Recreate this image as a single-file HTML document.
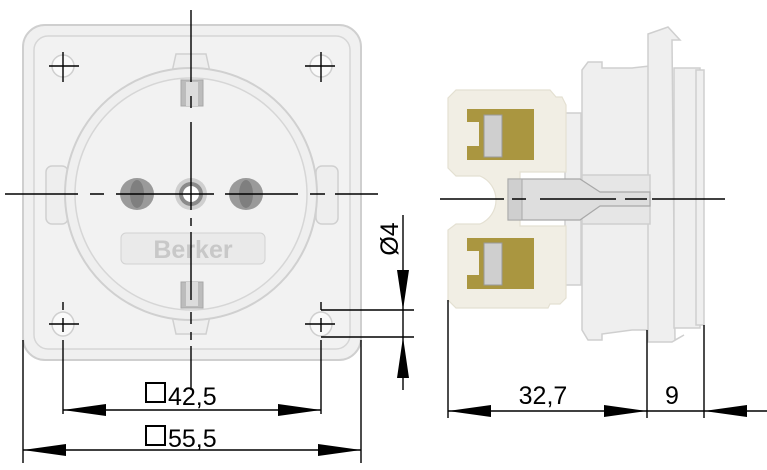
<!DOCTYPE html>
<html><head><meta charset="utf-8"><style>
html,body{margin:0;padding:0;background:#fff;}
svg{display:block}
text{font-family:"Liberation Sans",sans-serif;}
</style></head><body>
<svg width="767" height="470" viewBox="0 0 767 470" xmlns="http://www.w3.org/2000/svg">
<!-- front plate -->
<rect x="23" y="25" width="338" height="335" rx="22" fill="#f0f0f0" stroke="#cfcfcf" stroke-width="2"/>
<rect x="34" y="36" width="316" height="313" rx="14" fill="#f2f2f2" stroke="#d6d6d6" stroke-width="1.5"/>
<!-- side tabs -->
<path d="M172 72 L176 54 H206 L210 72" fill="#eee" stroke="#d0d0d0" stroke-width="1.5"/>
<path d="M172 316 L176 334 H206 L210 316" fill="#eee" stroke="#d0d0d0" stroke-width="1.5"/>
<rect x="46" y="166" width="22" height="58" rx="6" fill="#eee" stroke="#d0d0d0" stroke-width="1.5"/>
<rect x="316" y="166" width="22" height="58" rx="6" fill="#eee" stroke="#d0d0d0" stroke-width="1.5"/>
<circle cx="191" cy="194" r="126" fill="#efefef" stroke="#d0d0d0" stroke-width="2"/>
<circle cx="191" cy="194" r="116" fill="#f2f2f2" stroke="#d6d6d6" stroke-width="1.5"/>
<!-- earth clips -->
<rect x="181" y="80" width="22" height="26" fill="#bcbcbc" stroke="#a8a8a8"/>
<rect x="186" y="82" width="12" height="24" fill="#dcdcdc"/>
<rect x="181" y="282" width="22" height="26" fill="#bcbcbc" stroke="#a8a8a8"/>
<rect x="186" y="282" width="12" height="24" fill="#dcdcdc"/>
<!-- pin holes -->
<ellipse cx="137" cy="194" rx="17" ry="16" fill="#9a9a9a"/><ellipse cx="137" cy="194" rx="7" ry="14" fill="#7f7f7f"/>
<ellipse cx="246" cy="194" rx="17" ry="16" fill="#9a9a9a"/><ellipse cx="246" cy="194" rx="7" ry="14" fill="#7f7f7f"/>
<circle cx="191" cy="194" r="16" fill="#cfcfcf"/><circle cx="191" cy="194" r="12" fill="#8a8a8a"/><circle cx="191" cy="194" r="8" fill="#fff"/>
<!-- Berker -->
<rect x="121" y="233" width="144" height="31" rx="5" fill="#eaeaea" stroke="#d2d2d2"/>
<text x="193" y="258" text-anchor="middle" font-size="25" font-weight="bold" fill="#c8c8c8">Berker</text>
<!-- mounting holes -->
<g fill="#fafafa" stroke="#cfcfcf" stroke-width="1.5">
<circle cx="63" cy="66" r="11"/><circle cx="321" cy="66" r="11"/>
<ellipse cx="63" cy="324" rx="11" ry="12"/><ellipse cx="321" cy="324" rx="11" ry="12"/>
</g>
<g stroke="#000" stroke-width="1.4" fill="none">
<path d="M49 66h30M63 52v30M305 66h30M321 52v30"/>
<path d="M49 324h30M305 324h30M63 302v8M63 318v14M63 340v74M321 302v8M321 318v14M321 340v74"/>
<!-- center lines -->
<path d="M5 194h73M90 194h14M116 194h98M225 194h73M310 194h15M335 194h43"/>
<path d="M191 10v72M191 96v12M191 122v88M191 218v8M191 232v68M191 312v12M191 332v8M191 346v44"/>
<!-- plate extents -->
<path d="M23 340v123M361 340v123"/>
<!-- 42,5 -->
<path d="M63 410h258"/>
<!-- 55,5 -->
<path d="M23 450h338"/>
<!-- Ø4 -->
<path d="M403 215v175M321 310h93M321 337h93"/>
</g>
<g fill="#000">
<path d="M63 410l43-6v12z M321 410l-43-6v12z"/>
<path d="M23 450l43-6v12z M361 450l-43-6v12z"/>
<path d="M403 310l-6-40h12z M403 337l-6 41h12z"/>
</g>
<rect x="146" y="383" width="19" height="19" fill="none" stroke="#000" stroke-width="2"/>
<text x="168" y="405" font-size="25" fill="#000">42,5</text>
<rect x="146" y="426" width="19" height="19" fill="none" stroke="#000" stroke-width="2"/>
<text x="168" y="447" font-size="25" fill="#000">55,5</text>
<text transform="translate(398,239) rotate(-90)" text-anchor="middle" font-size="25" fill="#000">Ø4</text>

<!-- side view -->
<g stroke="#cfcfcf" stroke-width="1.5" fill="#efefef">
<path d="M582 70 L588 62 H602 V68 H632 L650 66 V330 H632 L602 334 V340 H588 L582 330 Z"/>
<rect x="565" y="113" width="16" height="172"/>
<path d="M648 34 L668 27 L680 40 L672 40 L675 340 L684 335 L672 342 L648 342 Z"/>
<rect x="674" y="68" width="26" height="260"/>
<rect x="696" y="70" width="8" height="255"/>
<path d="M582 175 H650 V224 H582 Z" fill="#e6e6e6"/>
</g>
<!-- cream block -->
<path d="M456 90 H550 L556 97 H562 L566 105 V172 H520 V226 H566 V298 L560 304 H550 L548 308 H456 L448 300 V230 L456 224 H480 A26 26 0 0 0 480 176 H456 L448 168 V98 Z" fill="#f1eee4" stroke="#e4e0d2" stroke-width="1.2"/>
<!-- brass -->
<g>
<rect x="467" y="109" width="67" height="51" fill="#aa9640"/>
<rect x="484" y="115" width="18" height="42" fill="#cfcfcf" stroke="#999"/>
<rect x="467" y="238" width="67" height="51" fill="#aa9640"/>
<rect x="484" y="243" width="18" height="42" fill="#cfcfcf" stroke="#999"/>
<rect x="467" y="122" width="12" height="24" fill="#f1eee4"/>
<rect x="467" y="251" width="12" height="24" fill="#f1eee4"/>
</g>
<!-- pin -->
<path d="M508 179 H580 L600 192 H650 V206 H600 L580 220 H508 Z" fill="#dedede" stroke="#a8a8a8" stroke-width="1.2"/>
<rect x="508" y="179" width="14" height="41" fill="#cfcfcf" stroke="#a8a8a8"/>
<g stroke="#000" stroke-width="1.4" fill="none">
<path d="M440 199h64M512 199h14M540 199h76M625 199h22M652 199h73"/>
<path d="M448 300v118M647 330v88M704 325v93M448 411h319"/>
</g>
<g fill="#000">
<path d="M448 411l43-6v12z M647 411l-43-6v12z M704 411l43-6v12z"/>
</g>
<text x="543" y="404" text-anchor="middle" font-size="25" fill="#000">32,7</text>
<text x="672" y="404" text-anchor="middle" font-size="25" fill="#000">9</text>
</svg>
</body></html>
